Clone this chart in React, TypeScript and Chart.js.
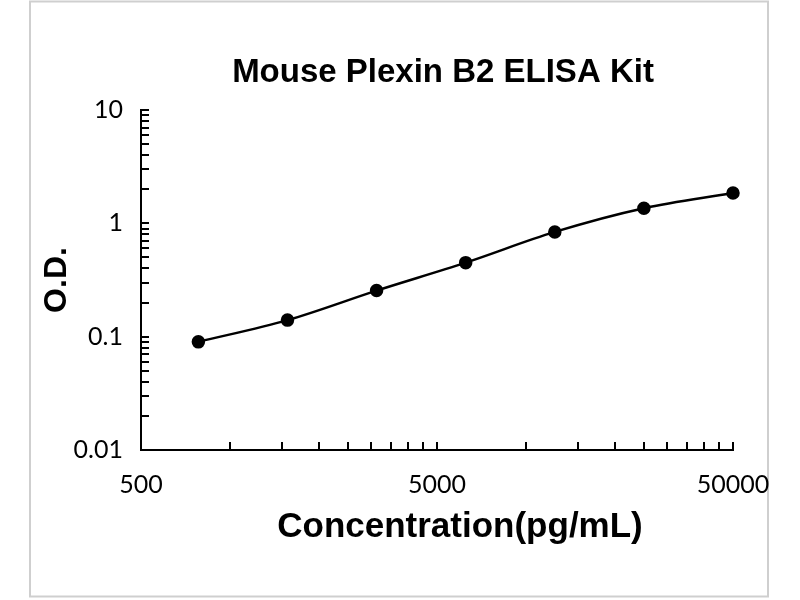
import React, { useEffect, useRef } from "react";
import { Chart, registerables } from "chart.js";

Chart.register(...registerables);

const titleText = "Mouse Plexin B2 ELISA Kit";
const xAxisTitle = "Concentration(pg/mL)";
const yAxisTitle = "O.D.";

const concentrations = [781.25, 1562.5, 3125, 6250, 12500, 25000, 50000];
const odValues = [0.09, 0.14, 0.255, 0.45, 0.84, 1.36, 1.85];

const xTickValues = [
  500, 1000, 1500, 2000, 2500, 3000, 3500, 4000, 4500, 5000,
  10000, 15000, 20000, 25000, 30000, 35000, 40000, 45000, 50000,
];
const xTickLabels = [500, 5000, 50000];

const yTickValues = [
  0.01, 0.02, 0.03, 0.04, 0.05, 0.06, 0.07, 0.08, 0.09,
  0.1, 0.2, 0.3, 0.4, 0.5, 0.6, 0.7, 0.8, 0.9,
  1, 2, 3, 4, 5, 6, 7, 8, 9, 10,
];
const yTickLabels = [0.01, 0.1, 1, 10];

const isLabel = (list: number[], v: number) =>
  list.some((l) => Math.abs(l - v) / l < 1e-6);

const decorPlugin = {
  id: "decor",
  beforeDraw(chart: any) {
    const ctx = chart.ctx;
    ctx.save();
    ctx.fillStyle = "#ffffff";
    ctx.fillRect(0, 0, chart.width, chart.height);
    ctx.strokeStyle = "#cfcfcf";
    ctx.lineWidth = 2;
    ctx.strokeRect(30, 1.5, 738, 595);
    ctx.restore();
  },
  afterDraw(chart: any) {
    const ctx = chart.ctx;
    ctx.save();
    ctx.fillStyle = "#000000";
    ctx.textAlign = "center";
    ctx.textBaseline = "alphabetic";
    ctx.font = 'bold 33px "Liberation Sans", Arial, sans-serif';
    ctx.fillText(titleText, 443, 82);
    ctx.font = 'bold 35px "Liberation Sans", Arial, sans-serif';
    ctx.fillText(xAxisTitle, 460, 537);
    ctx.restore();
  },
};

export default function App() {
  const canvasRef = useRef<HTMLCanvasElement | null>(null);

  useEffect(() => {
    if (!canvasRef.current) return;
    const chart = new Chart(canvasRef.current, {
      type: "line",
      data: {
        datasets: [
          {
            data: concentrations.map((x, i) => ({ x, y: odValues[i] })),
            borderColor: "#000000",
            backgroundColor: "#000000",
            borderWidth: 2.5,
            pointRadius: 5.5,
            pointHoverRadius: 5.5,
            pointBackgroundColor: "#000000",
            pointBorderColor: "#000000",
            cubicInterpolationMode: "monotone",
            clip: false as any,
          },
        ],
      },
      plugins: [decorPlugin],
      options: {
        animation: false,
        responsive: false,
        devicePixelRatio: 1,
        events: [],
        layout: { padding: { left: 30, top: 110, right: 67, bottom: 0 } },
        plugins: {
          legend: { display: false },
          tooltip: { enabled: false },
          title: { display: false },
        },
        scales: {
          x: {
            type: "logarithmic",
            min: 500,
            max: 50000,
            afterBuildTicks: (scale: any) => {
              scale.ticks = xTickValues.map((v) => ({ value: v }));
            },
            afterFit: (scale: any) => {
              scale.height = 150;
            },
            ticks: {
              autoSkip: false,
              maxRotation: 0,
              minRotation: 0,
              padding: 28,
              color: "#000000",
              font: { family: "Lato", size: 25 },
              callback: (v: any) =>
                isLabel(xTickLabels, Number(v)) ? String(Number(v)) : "",
            },
            grid: {
              drawOnChartArea: false,
              drawTicks: true,
              tickLength: -8,
              color: "#000000",
              lineWidth: 2,
            },
            border: { display: true, color: "#000000", width: 2 },
          },
          y: {
            type: "logarithmic",
            min: 0.01,
            max: 10,
            afterBuildTicks: (scale: any) => {
              scale.ticks = yTickValues.map((v) => ({ value: v }));
            },
            afterFit: (scale: any) => {
              scale.width = 111;
            },
            ticks: {
              autoSkip: false,
              padding: 26,
              color: "#000000",
              font: { family: "Lato", size: 25 },
              callback: (v: any) =>
                isLabel(yTickLabels, Number(v)) ? String(Number(v)) : "",
            },
            grid: {
              drawOnChartArea: false,
              drawTicks: true,
              tickLength: -8,
              color: "#000000",
              lineWidth: 2,
            },
            border: { display: true, color: "#000000", width: 2 },
            title: {
              display: true,
              text: yAxisTitle,
              color: "#000000",
              font: { family: '"Liberation Sans", Arial, sans-serif', size: 32, weight: "bold" },
              padding: { top: 8, bottom: 0 },
            },
          },
        },
      },
    } as any);
    return () => chart.destroy();
  }, []);

  return (
    <div style={{ position: "absolute", left: 0, top: 0, width: 800, height: 600 }}>
      <canvas ref={canvasRef} width={800} height={600} style={{ width: 800, height: 600 }} />
    </div>
  );
}
